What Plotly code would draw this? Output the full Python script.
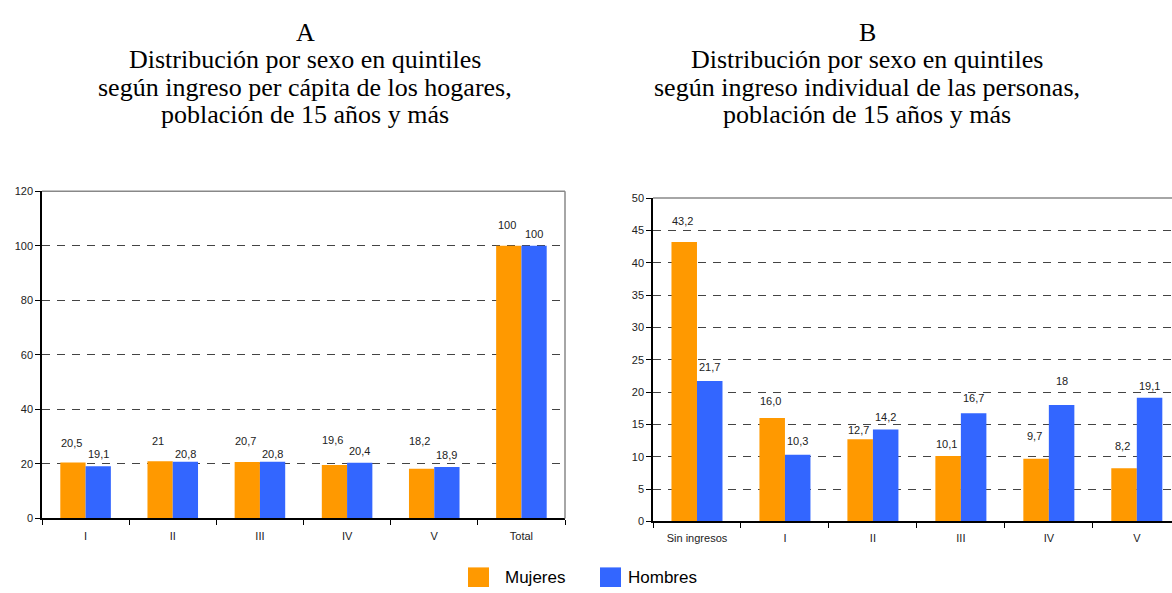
import plotly.graph_objects as go

# ---- data ----
cats_a = ["I", "II", "III", "IV", "V", "Total"]
mujeres_a = [20.5, 21, 20.7, 19.6, 18.2, 100]
hombres_a = [19.1, 20.8, 20.8, 20.4, 18.9, 100]
mujeres_a_txt = ["20,5", "21", "20,7", "19,6", "18,2", "100"]
hombres_a_txt = ["19,1", "20,8", "20,8", "20,4", "18,9", "100"]

cats_b = ["Sin ingresos", "I", "II", "III", "IV", "V"]
mujeres_b = [43.2, 16.0, 12.7, 10.1, 9.7, 8.2]
hombres_b = [21.7, 10.3, 14.2, 16.7, 18, 19.1]
mujeres_b_txt = ["43,2", "16,0", "12,7", "10,1", "9,7", "8,2"]
hombres_b_txt = ["21,7", "10,3", "14,2", "16,7", "18", "19,1"]

title_a = ["A", "Distribución por sexo en quintiles",
           "según ingreso per cápita de los hogares,", "población de 15 años y más"]
title_b = ["B", "Distribución por sexo en quintiles",
           "según ingreso individual de las personas,", "población de 15 años y más"]

# label placement (pixel offsets above bar tops, as placed in the original)
lift_muj_a = [20, 20, 21, 25, 28, 21]
lift_hom_a = [12, 8, 8, 12, 12, 12]
lift_muj_b = [21, 17, 9, 12, 23, 22]
lift_hom_b = [14, 14, 13, 15, 24, 12]

ORANGE = "#FF9900"
BLUE = "#3366FF"
W, H = 1172, 593
SANS = "Arial, Liberation Sans, sans-serif"
SERIF = "Times New Roman, Liberation Serif, serif"

fig = go.Figure()
for xs, ys, col, nm, xa_, ya_ in [
    (cats_a, mujeres_a, ORANGE, "Mujeres", "x", "y"),
    (cats_a, hombres_a, BLUE, "Hombres", "x", "y"),
    (cats_b, mujeres_b, ORANGE, "Mujeres", "x2", "y2"),
    (cats_b, hombres_b, BLUE, "Hombres", "x2", "y2"),
]:
    fig.add_trace(go.Bar(x=xs, y=ys, name=nm, xaxis=xa_, yaxis=ya_, showlegend=False,
                         marker=dict(color=col, line=dict(width=0))))

ann = []
def labels(cats, vals, txts, lifts, xr, yr, xs):
    for c, v, t, lf in zip(cats, vals, txts, lifts):
        ann.append(dict(x=c, y=v, xref=xr, yref=yr, text=t, showarrow=False,
                        xshift=xs, yshift=lf, yanchor="middle",
                        font=dict(family=SANS, size=11, color="#222")))

labels(cats_a, mujeres_a, mujeres_a_txt, lift_muj_a, "x", "y", -14.5)
labels(cats_a, hombres_a, hombres_a_txt, lift_hom_a, "x", "y", 12.5)
labels(cats_b, mujeres_b, mujeres_b_txt, lift_muj_b, "x2", "y2", -14)
labels(cats_b, hombres_b, hombres_b_txt, lift_hom_b, "x2", "y2", 12.8)

line_y = [27, 55, 83, 111]
for lines, cx in [(title_a, 305), (title_b, 867)]:
    for txt, ly in zip(lines, line_y):
        ann.append(dict(x=cx / W, y=1 - ly / H, xref="paper", yref="paper", text=txt,
                        showarrow=False, xanchor="center", yanchor="middle",
                        font=dict(family=SERIF, size=26, color="#000")))

# manual legend
shapes = []
legend_items = [("Mujeres", ORANGE, 468, 503), ("Hombres", BLUE, 600, 626)]
for name, col, sx, tx in legend_items:
    shapes.append(dict(type="rect", xref="paper", yref="paper",
                       x0=sx / W, x1=(sx + 21) / W, y0=1 - 593 / H, y1=1 - 573 / H,
                       fillcolor=col, line=dict(width=0)))
    ann.append(dict(x=tx / W, y=1 - 583 / H, xref="paper", yref="paper", text=name,
                    showarrow=False, xanchor="left", yanchor="middle",
                    font=dict(family=SANS, size=17, color="#000")))

# plot frames (gray top/right)
xa = [42 / W, 565 / W]
ya = [1 - 523 / H, 1 - 189 / H]
xb = [653 / W, 1.0]
yb = [1 - 526 / H, 1 - 196 / H]
shapes.append(dict(type="line", xref="paper", yref="paper", x0=xa[0], x1=xa[1], y0=ya[1], y1=ya[1],
                   line=dict(color="#888", width=1.5)))
shapes.append(dict(type="line", xref="paper", yref="paper", x0=xa[1], x1=xa[1], y0=ya[0], y1=ya[1],
                   line=dict(color="#888", width=1.5)))
shapes.append(dict(type="line", xref="paper", yref="paper", x0=xb[0], x1=xb[1], y0=yb[1], y1=yb[1],
                   line=dict(color="#888", width=1.5)))

axis_common = dict(showline=True, linecolor="#000", linewidth=1.5, ticks="outside",
                   ticklen=5, tickcolor="#000", tickfont=dict(family=SANS, size=11, color="#222"))
grid_common = dict(showgrid=True, gridcolor="#444", griddash="8px,7px", gridwidth=1, zeroline=False)

fig.update_layout(
    width=W, height=H,
    margin=dict(l=0, r=0, t=0, b=0),
    paper_bgcolor="white", plot_bgcolor="white",
    barmode="group", bargap=0.42, bargroupgap=0,
    xaxis=dict(domain=xa, anchor="y", tickson="boundaries", showgrid=False,
               ticklabelstandoff=7, **axis_common),
    yaxis=dict(domain=ya, anchor="x", range=[0, 120], dtick=20, **grid_common, **axis_common),
    xaxis2=dict(domain=xb, anchor="y2", tickson="boundaries", showgrid=False,
                range=[-0.5, 5.4], ticklabelstandoff=6, **axis_common),
    yaxis2=dict(domain=yb, anchor="x2", range=[0, 50], dtick=5, **grid_common, **axis_common),
    annotations=ann,
    shapes=shapes,
)

fig.write_html("out.html")
